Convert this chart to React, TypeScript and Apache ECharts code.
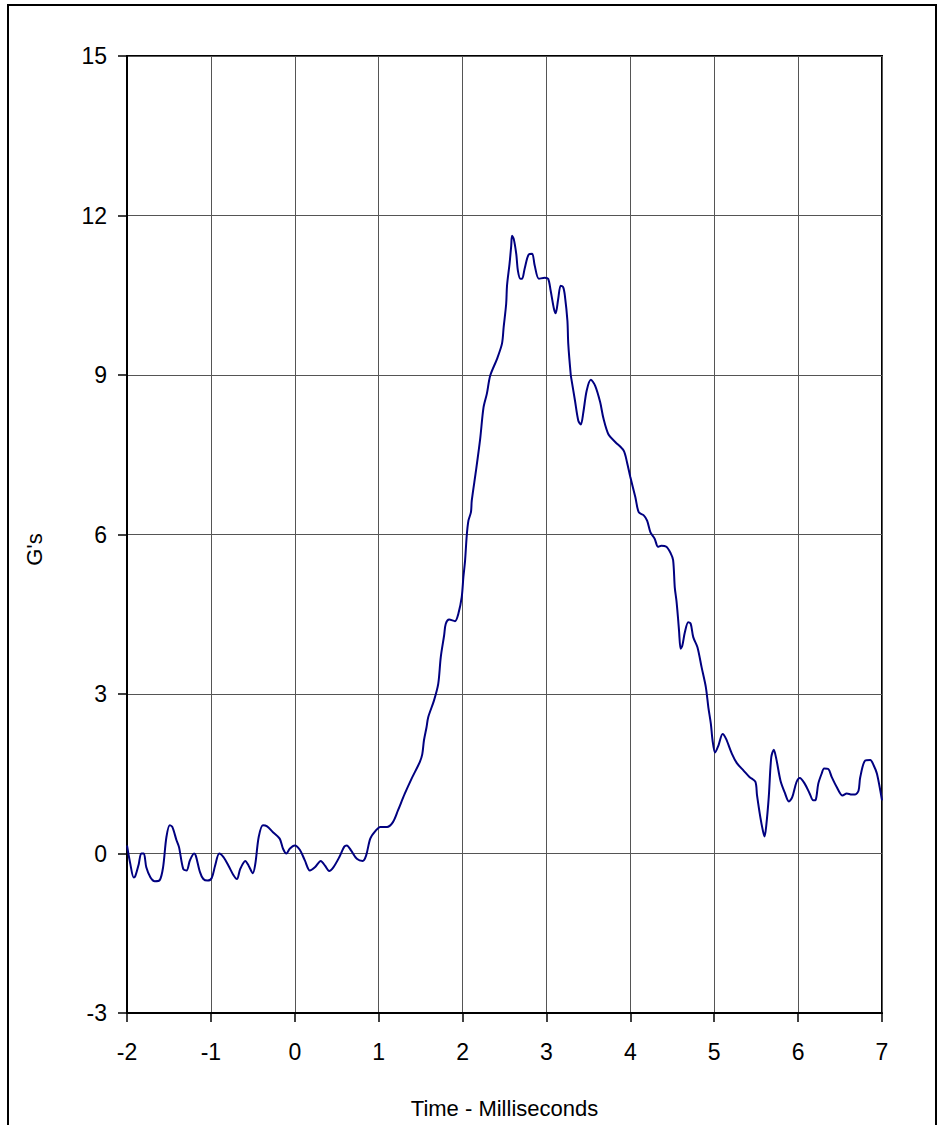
import React, { useEffect, useRef } from "react";
import * as echarts from "echarts";

const timeMs = [
  -2.0, -1.96, -1.92, -1.9, -1.86, -1.83, -1.8, -1.77, -1.72, -1.67, -1.61, -1.57, -1.53, -1.49, -1.46, -1.41,
  -1.38, -1.33, -1.29, -1.25, -1.2, -1.18, -1.13, -1.09, -1.04, -0.99, -0.95, -0.9, -0.85, -0.79, -0.73, -0.69,
  -0.65, -0.59, -0.55, -0.5, -0.47, -0.43, -0.38, -0.33, -0.26, -0.18, -0.14, -0.1, -0.06, 0.0, 0.06, 0.12,
  0.18, 0.24, 0.31, 0.36, 0.41, 0.46, 0.53, 0.59, 0.62, 0.67, 0.74, 0.81, 0.85, 0.9, 0.96, 1.02,
  1.1, 1.17, 1.23, 1.31, 1.39, 1.49, 1.52, 1.54, 1.57, 1.59, 1.66, 1.71, 1.74, 1.78, 1.8, 1.84,
  1.91, 1.95, 1.99, 2.01, 2.03, 2.05, 2.07, 2.1, 2.11, 2.16, 2.21, 2.25, 2.29, 2.33, 2.41, 2.47,
  2.49, 2.52, 2.53, 2.56, 2.58, 2.59, 2.61, 2.64, 2.66, 2.69, 2.71, 2.74, 2.79, 2.83, 2.86, 2.91,
  2.98, 3.02, 3.05, 3.09, 3.11, 3.14, 3.17, 3.2, 3.22, 3.25, 3.26, 3.29, 3.3, 3.34, 3.38, 3.41,
  3.44, 3.48, 3.53, 3.58, 3.64, 3.68, 3.74, 3.82, 3.92, 3.96, 4.0, 4.06, 4.1, 4.16, 4.2, 4.24,
  4.29, 4.33, 4.37, 4.43, 4.48, 4.51, 4.53, 4.55, 4.57, 4.58, 4.6, 4.62, 4.65, 4.69, 4.72, 4.75,
  4.8, 4.85, 4.9, 4.93, 4.96, 4.98, 5.01, 5.05, 5.1, 5.14, 5.21, 5.27, 5.35, 5.42, 5.49, 5.51,
  5.55, 5.58, 5.6, 5.62, 5.65, 5.68, 5.71, 5.74, 5.79, 5.84, 5.89, 5.93, 5.98, 6.02, 6.08, 6.14,
  6.18, 6.21, 6.24, 6.28, 6.31, 6.36, 6.4, 6.46, 6.53, 6.58, 6.64, 6.68, 6.72, 6.74, 6.8, 6.86,
  6.9, 6.94, 7.0,
];

const gValues = [
  0.15, -0.2, -0.45, -0.42, -0.2, 0.0, 0.0, -0.26, -0.45, -0.52, -0.5, -0.26, 0.31, 0.53, 0.5, 0.25,
  0.12, -0.29, -0.32, -0.13, 0.0, -0.04, -0.35, -0.48, -0.51, -0.46, -0.23, 0.0, -0.07, -0.23, -0.41, -0.48,
  -0.29, -0.14, -0.23, -0.37, -0.19, 0.31, 0.53, 0.51, 0.4, 0.28, 0.09, 0.0, 0.09, 0.15, 0.07, -0.13,
  -0.32, -0.26, -0.14, -0.23, -0.33, -0.26, -0.07, 0.13, 0.15, 0.06, -0.1, -0.14, -0.04, 0.28, 0.42, 0.5,
  0.5, 0.59, 0.81, 1.12, 1.4, 1.72, 1.87, 2.13, 2.37, 2.56, 2.88, 3.19, 3.69, 4.1, 4.32, 4.4,
  4.37, 4.51, 4.82, 5.2, 5.51, 5.98, 6.26, 6.42, 6.64, 7.2, 7.8, 8.39, 8.65, 8.99, 9.3, 9.59,
  9.9, 10.34, 10.68, 11.09, 11.43, 11.62, 11.56, 11.28, 10.96, 10.81, 10.81, 11.0, 11.27, 11.28, 11.06, 10.81,
  10.83, 10.81, 10.59, 10.24, 10.16, 10.43, 10.68, 10.65, 10.49, 10.02, 9.59, 9.0, 8.9, 8.52, 8.14, 8.07,
  8.3, 8.71, 8.91, 8.8, 8.49, 8.18, 7.88, 7.74, 7.58, 7.36, 7.08, 6.7, 6.42, 6.36, 6.26, 6.04,
  5.92, 5.77, 5.79, 5.77, 5.65, 5.52, 5.0, 4.75, 4.4, 4.2, 3.85, 3.91, 4.16, 4.35, 4.32, 4.07,
  3.88, 3.5, 3.13, 2.75, 2.44, 2.13, 1.9, 2.03, 2.25, 2.16, 1.88, 1.7, 1.56, 1.44, 1.35, 1.1,
  0.68, 0.43, 0.32, 0.52, 1.06, 1.81, 1.95, 1.78, 1.37, 1.15, 0.98, 1.06, 1.34, 1.42, 1.31, 1.12,
  1.0, 1.01, 1.31, 1.5, 1.6, 1.59, 1.44, 1.25, 1.09, 1.13, 1.11, 1.11, 1.18, 1.43, 1.75, 1.76,
  1.66, 1.5, 1.0,
];

const xAxisName = "Time - Milliseconds";
const yAxisName = "G's";

export default function App() {
  const ref = useRef<HTMLDivElement>(null);
  useEffect(() => {
    if (!ref.current) return;
    const chart = echarts.init(ref.current, undefined, { renderer: "svg" });
    const font = "'Liberation Sans', Arial, sans-serif";
    chart.setOption({
      animation: false,
      backgroundColor: "#ffffff",
      textStyle: { fontFamily: font },
      graphic: [
        {
          type: "rect",
          shape: { x: 8, y: 5, width: 928, height: 1140 },
          style: { fill: "none", stroke: "#000", lineWidth: 2 },
          silent: true,
        },
      ],
      grid: {
        left: 127,
        right: 63,
        top: 56,
        bottom: 112,
        show: true,
        borderColor: "#000",
        borderWidth: 2,
      },
      xAxis: {
        type: "value",
        min: -2,
        max: 7,
        interval: 1,
        name: xAxisName,
        nameLocation: "middle",
        nameGap: 84,
        nameTextStyle: { color: "#000", fontSize: 22, fontFamily: font },
        axisLine: { show: true, onZero: false, lineStyle: { color: "#000", width: 2 } },
        axisTick: { show: true, length: 9, lineStyle: { color: "#000", width: 1.5 } },
        axisLabel: { color: "#000", fontSize: 23, margin: 27, fontFamily: font },
        splitLine: { show: true, lineStyle: { color: "#555", width: 1 } },
      },
      yAxis: {
        type: "value",
        min: -3,
        max: 15,
        interval: 3,
        name: yAxisName,
        nameLocation: "middle",
        nameGap: 82,
        nameRotate: 90,
        nameTextStyle: { color: "#000", fontSize: 22, fontFamily: font, padding: [0, 30, 0, 0] },
        axisLine: { show: true, onZero: false, lineStyle: { color: "#000", width: 2 } },
        axisTick: { show: true, length: 9, lineStyle: { color: "#000", width: 1.5 } },
        axisLabel: { color: "#000", fontSize: 23, margin: 20, fontFamily: font },
        splitLine: { show: true, lineStyle: { color: "#555", width: 1 } },
      },
      series: [
        {
          type: "line",
          data: timeMs.map((t, i) => [t, gValues[i]]),
          showSymbol: false,
          smooth: 0.3,
          lineStyle: { color: "#000080", width: 2 },
          clip: true,
        },
      ],
    });
    return () => chart.dispose();
  }, []);
  return (
    <div
      ref={ref}
      style={{ position: "absolute", left: 0, top: 0, width: 945, height: 1125 }}
    />
  );
}
